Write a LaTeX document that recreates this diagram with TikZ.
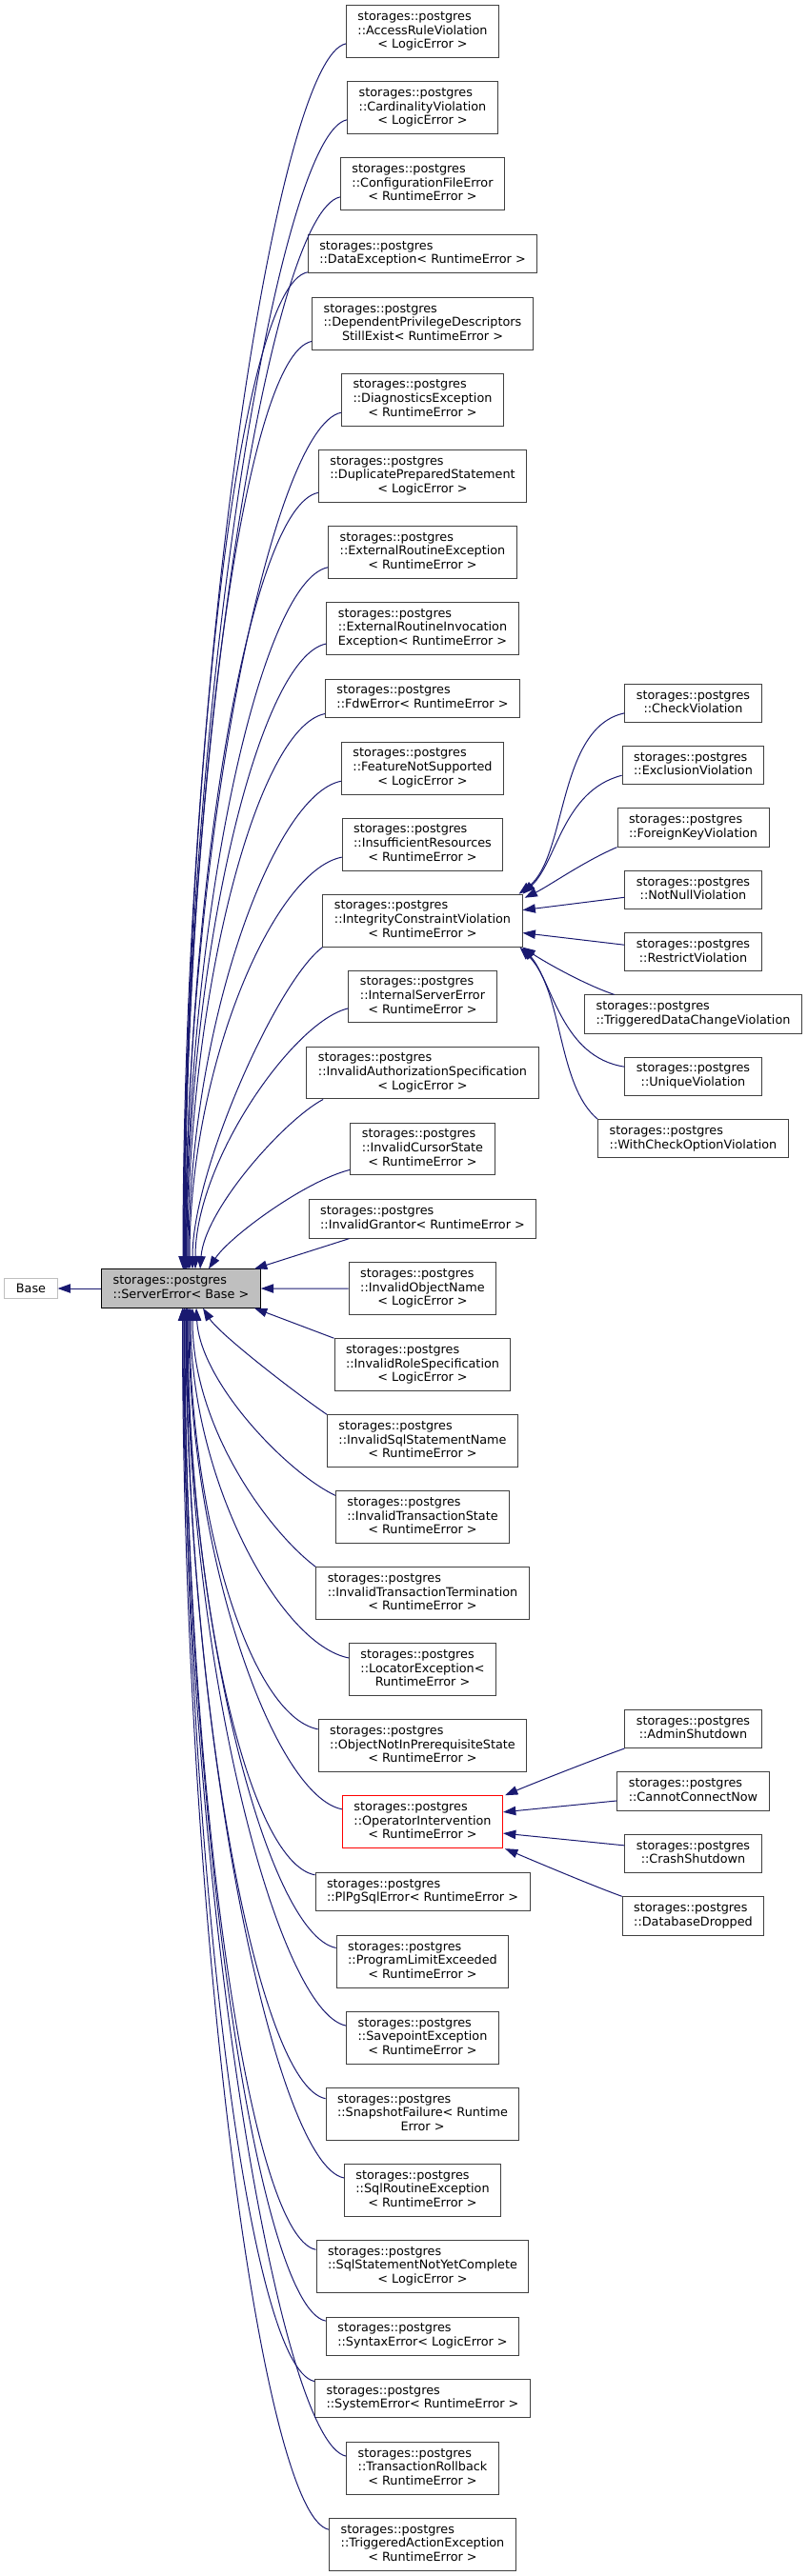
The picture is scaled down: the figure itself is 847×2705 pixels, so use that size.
\documentclass[tikz,border=0pt]{standalone}
\usepackage{fontspec}
\setmainfont{DejaVu Sans}
\usepackage{tikz}
\usetikzlibrary{arrows.meta,calc}
\definecolor{edgeblue}{RGB}{25,25,112}
\definecolor{boxline}{RGB}{64,64,64}
\definecolor{basegrey}{RGB}{191,191,191}
\newcommand{\pgcls}[1]{\begin{tabular}{@{}c@{}}\multicolumn{1}{@{}l@{}}{storages::postgres}\\#1\end{tabular}}

\begin{document}
\begin{tikzpicture}[x=0.75pt, y=-0.75pt,
    cls/.style={draw=boxline, fill=white, line width=0.75pt, inner xsep=9pt, inner ysep=4.1pt,
      font=\fontsize{9.6}{11}\selectfont},
    inh/.style={draw=edgeblue, line width=0.75pt, arrows={Triangle[length=10pt, width=7pt]-}}]
    \useasboundingbox (0,0) rectangle (847,2705);

    % base classes
    \node[cls, draw=basegrey] (base) at (32.5,1353) {Base};
    \node[cls, draw=black, fill=basegrey] (se) at (190,1353) {\pgcls{::ServerError< Base >}};

    % left column
    \node[cls] (acc) at (443.5,33.2) {\pgcls{::AccessRuleViolation\\< LogicError >}};
    \node[cls] (car) at (443.5,113.2) {\pgcls{::CardinalityViolation\\< LogicError >}};
    \node[cls] (cfg) at (443.5,193.2) {\pgcls{::ConfigurationFileError\\< RuntimeError >}};
    \node[cls] (dex) at (443.5,266.7) {\pgcls{::DataException< RuntimeError >}};
    \node[cls] (dep) at (443.5,340) {\pgcls{::DependentPrivilegeDescriptors\\StillExist< RuntimeError >}};
    \node[cls] (dia) at (443.5,419.7) {\pgcls{::DiagnosticsException\\< RuntimeError >}};
    \node[cls] (dup) at (443.5,500) {\pgcls{::DuplicatePreparedStatement\\< LogicError >}};
    \node[cls] (ere) at (443.5,580) {\pgcls{::ExternalRoutineException\\< RuntimeError >}};
    \node[cls] (eri) at (443.5,660) {\pgcls{::ExternalRoutineInvocation\\Exception< RuntimeError >}};
    \node[cls] (fdw) at (443.5,733.3) {\pgcls{::FdwError< RuntimeError >}};
    \node[cls] (fns) at (443.5,806.7) {\pgcls{::FeatureNotSupported\\< LogicError >}};
    \node[cls] (ins) at (443.5,886.7) {\pgcls{::InsufficientResources\\< RuntimeError >}};
    \node[cls] (icv) at (443.5,966.7) {\pgcls{::IntegrityConstraintViolation\\< RuntimeError >}};
    \node[cls] (ise) at (443.5,1046.5) {\pgcls{::InternalServerError\\< RuntimeError >}};
    \node[cls] (iaz) at (443.5,1126.5) {\pgcls{::InvalidAuthorizationSpecification\\< LogicError >}};
    \node[cls] (icu) at (443.5,1206.5) {\pgcls{::InvalidCursorState\\< RuntimeError >}};
    \node[cls] (igr) at (443.5,1280) {\pgcls{::InvalidGrantor< RuntimeError >}};
    \node[cls] (ion) at (443.5,1353.2) {\pgcls{::InvalidObjectName\\< LogicError >}};
    \node[cls] (irs) at (443.5,1433.2) {\pgcls{::InvalidRoleSpecification\\< LogicError >}};
    \node[cls] (iss) at (443.5,1513.2) {\pgcls{::InvalidSqlStatementName\\< RuntimeError >}};
    \node[cls] (its) at (443.5,1593.2) {\pgcls{::InvalidTransactionState\\< RuntimeError >}};
    \node[cls] (itt) at (443.5,1673.2) {\pgcls{::InvalidTransactionTermination\\< RuntimeError >}};
    \node[cls] (loc) at (443.5,1753.2) {\pgcls{::LocatorException<\\RuntimeError >}};
    \node[cls] (onp) at (443.5,1833.2) {\pgcls{::ObjectNotInPrerequisiteState\\< RuntimeError >}};
    \node[cls, draw=red] (opi) at (443.5,1913.2) {\pgcls{::OperatorIntervention\\< RuntimeError >}};
    \node[cls] (plp) at (443.5,1986.7) {\pgcls{::PlPgSqlError< RuntimeError >}};
    \node[cls] (ple) at (443.5,2059.8) {\pgcls{::ProgramLimitExceeded\\< RuntimeError >}};
    \node[cls] (sav) at (443.5,2139.8) {\pgcls{::SavepointException\\< RuntimeError >}};
    \node[cls] (snp) at (443.5,2219.8) {\pgcls{::SnapshotFailure< Runtime\\Error >}};
    \node[cls] (sqr) at (443.5,2300) {\pgcls{::SqlRoutineException\\< RuntimeError >}};
    \node[cls] (sqs) at (443.5,2380) {\pgcls{::SqlStatementNotYetComplete\\< LogicError >}};
    \node[cls] (syn) at (443.5,2453.2) {\pgcls{::SyntaxError< LogicError >}};
    \node[cls] (sys) at (443.5,2518.5) {\pgcls{::SystemError< RuntimeError >}};
    \node[cls] (trb) at (443.5,2591.8) {\pgcls{::TransactionRollback\\< RuntimeError >}};
    \node[cls] (tae) at (443.5,2671.8) {\pgcls{::TriggeredActionException\\< RuntimeError >}};

    % right column
    \node[cls] (chk) at (727.5,738.7) {\pgcls{::CheckViolation}};
    \node[cls] (exc) at (727.5,803.7) {\pgcls{::ExclusionViolation}};
    \node[cls] (fkv) at (727.5,869) {\pgcls{::ForeignKeyViolation}};
    \node[cls] (nnv) at (727.5,934.7) {\pgcls{::NotNullViolation}};
    \node[cls] (rsv) at (727.5,999.8) {\pgcls{::RestrictViolation}};
    \node[cls] (tdc) at (727.5,1065) {\pgcls{::TriggeredDataChangeViolation}};
    \node[cls] (unq) at (727.5,1130.3) {\pgcls{::UniqueViolation}};
    \node[cls] (wco) at (727.5,1195.8) {\pgcls{::WithCheckOptionViolation}};
    \node[cls] (adm) at (727.5,1815.4) {\pgcls{::AdminShutdown}};
    \node[cls] (ccn) at (727.5,1881.1) {\pgcls{::CannotConnectNow}};
    \node[cls] (crs) at (727.5,1946.7) {\pgcls{::CrashShutdown}};
    \node[cls] (dbd) at (727.5,2011.9) {\pgcls{::DatabaseDropped}};

    % inheritance edges
    \draw[inh] (base.east) -- (se.west);
    \draw[inh] (se.east) -- (ion.west);
    \draw[inh] (se.15) -- (igr.195);
    \draw[inh] (se.-15) -- (irs.north west);

    \draw[inh] ($(se.north)+(2,0)$) .. controls +(0,-630) and +(-72,14) .. (acc.189);
    \draw[inh] ($(se.north)+(2.5,0)$) .. controls +(0,-591) and +(-72,14) .. (car.189);
    \draw[inh] ($(se.north)+(3,0)$) .. controls +(0,-552) and +(-72,14) .. (cfg.189);
    \draw[inh] ($(se.north)+(3.5,0)$) .. controls +(0,-513) and +(-72,14) .. (dex.189);
    \draw[inh] ($(se.north)+(4,0)$) .. controls +(0,-478) and +(-72,14) .. (dep.189);
    \draw[inh] ($(se.north)+(4.5,0)$) .. controls +(0,-441) and +(-72,14) .. (dia.189);
    \draw[inh] ($(se.north)+(5,0)$) .. controls +(0,-400) and +(-72,14) .. (dup.189);
    \draw[inh] ($(se.north)+(5.5,0)$) .. controls +(0,-361) and +(-72,14) .. (ere.189);
    \draw[inh] ($(se.north)+(6,0)$) .. controls +(0,-322) and +(-72,14) .. (eri.189);
    \draw[inh] ($(se.north)+(7,0)$) .. controls +(0,-285) and +(-72,14) .. (fdw.189);
    \draw[inh] ($(se.north)+(8,0)$) .. controls +(0,-251) and +(-72,14) .. (fns.189);
    \draw[inh] ($(se.north)+(9,0)$) .. controls +(0,-212) and +(-72,14) .. (ins.189);
    \draw[inh] ($(se.north)+(12,0)$) .. controls +(0,-103) and +(-48,36) .. (icv.south west);
    \draw[inh] ($(se.north)+(15,0)$) .. controls +(0,-113) and +(-57,13) .. (ise.189);
    \draw[inh] ($(se.north)+(20,0)$) .. controls +(5,-63) and +(-40,21) .. (iaz.195);
    \draw[inh] ($(se.north)+(29,0)$) .. controls +(21,-33) and +(-48,12) .. (icu.196);

    \draw[inh] ($(se.south)+(23,0)$) .. controls +(17,27) and +(-35,-24) .. (iss.north west);
    \draw[inh] ($(se.south)+(16,0)$) .. controls +(4,77) and +(-52,-25) .. (its.166);
    \draw[inh] ($(se.south)+(12,0)$) .. controls +(0,127) and +(-48,-36) .. (itt.166);
    \draw[inh] ($(se.south)+(10,0)$) .. controls +(0,180) and +(-72,-14) .. (loc.171);
    \draw[inh] ($(se.south)+(9,0)$) .. controls +(0,217) and +(-72,-14) .. (onp.171);
    \draw[inh] ($(se.south)+(8,0)$) .. controls +(0,258) and +(-72,-14) .. (opi.171);
    \draw[inh] ($(se.south)+(7,0)$) .. controls +(0,292) and +(-72,-14) .. (plp.171);
    \draw[inh] ($(se.south)+(6.5,0)$) .. controls +(0,329) and +(-72,-14) .. (ple.171);
    \draw[inh] ($(se.south)+(6,0)$) .. controls +(0,370) and +(-72,-14) .. (sav.171);
    \draw[inh] ($(se.south)+(5.5,0)$) .. controls +(0,407) and +(-72,-14) .. (snp.171);
    \draw[inh] ($(se.south)+(5,0)$) .. controls +(0,448) and +(-72,-14) .. (sqr.171);
    \draw[inh] ($(se.south)+(4,0)$) .. controls +(0,485) and +(-72,-14) .. (sqs.171);
    \draw[inh] ($(se.south)+(3.5,0)$) .. controls +(0,521) and +(-72,-14) .. (syn.171);
    \draw[inh] ($(se.south)+(3,0)$) .. controls +(0,552) and +(-72,-14) .. (sys.171);
    \draw[inh] ($(se.south)+(2,0)$) .. controls +(0,591) and +(-72,-14) .. (trb.171);
    \draw[inh] ($(se.south)+(1.5,0)$) .. controls +(0,629) and +(-72,-14) .. (tae.171);

    \draw[inh] ($(icv.north east)+(-4,0)$) .. controls +(51,-39) and +(-71,15) .. (chk.188);
    \draw[inh] (icv.north east) .. controls +(36,-34) and +(-62,16) .. (exc.188);
    \draw[inh] ($(icv.north east)+(2,4)$) .. controls +(25,-12) and +(-35,15) .. (fkv.south west);
    \draw[inh] (icv.6) -- (nnv.186);
    \draw[inh] (icv.-7) -- (rsv.174);
    \draw[inh] (icv.south east) .. controls +(24,16) and +(-30,-10) .. (tdc.166);
    \draw[inh] (icv.south east) .. controls +(31,36) and +(-66,-10) .. (unq.172);
    \draw[inh] ($(icv.south east)+(-3,0)$) .. controls +(46,46) and +(-43,-36) .. (wco.north west);

    \draw[inh] ($(opi.north east)+(2,0)$) .. controls +(28,-12) and +(-28,10) .. (adm.south west);
    \draw[inh] (opi.7) -- (ccn.187);
    \draw[inh] (opi.-8) -- (crs.173);
    \draw[inh] ($(opi.south east)+(2,0)$) .. controls +(28,12) and +(-28,-10) .. (dbd.north west);
\end{tikzpicture}
\end{document}
